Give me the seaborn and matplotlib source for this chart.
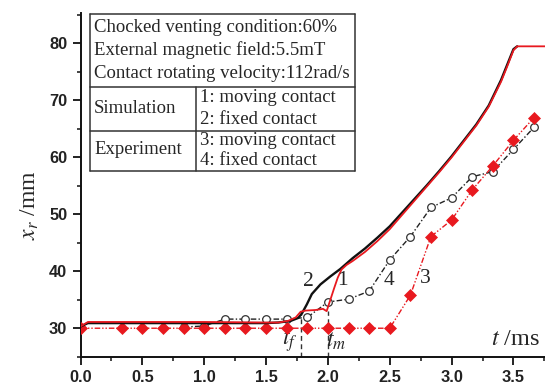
import matplotlib
matplotlib.use("Agg")
import matplotlib.pyplot as plt
from matplotlib.lines import Line2D
from matplotlib.ticker import MultipleLocator, FormatStrFormatter
import seaborn as sns
import pandas as pd

# Simulation 1: moving contact
t_sim1 = [0.0, 0.06, 0.5, 1.0, 1.5, 1.6, 1.68, 1.74, 1.78, 1.82, 1.9, 1.96, 1.99,
          2.02, 2.05, 2.08, 2.11, 2.15, 2.2, 2.3, 2.4, 2.5, 2.6, 2.7, 2.8, 2.9,
          3.0, 3.1, 3.2, 3.3, 3.4, 3.45, 3.5, 3.53, 3.76]
x_sim1 = [30.3, 31.1, 31.1, 31.1, 31.0, 31.0, 31.3, 31.9, 32.9, 33.1, 33.2, 33.4, 33.0,
          35.0, 37.0, 38.9, 40.3, 41.1, 41.8, 43.4, 45.3, 47.4, 49.9, 52.4, 54.9, 57.4,
          60.0, 62.8, 65.6, 68.9, 73.3, 76.0, 78.8, 79.5, 79.5]

# Simulation 2: fixed contact
t_sim2 = [0.0, 0.06, 0.5, 1.0, 1.5, 1.6, 1.7, 1.76, 1.79, 1.83, 1.87, 1.94, 2.02,
          2.1, 2.2, 2.3, 2.4, 2.5, 2.6, 2.7, 2.8, 2.9, 3.0, 3.1, 3.2, 3.3, 3.4,
          3.45, 3.5, 3.53]
x_sim2 = [30.3, 30.9, 30.9, 30.9, 30.9, 31.0, 31.3, 31.8, 32.6, 34.2, 36.0, 37.7, 39.1,
          40.4, 42.3, 44.0, 45.9, 47.9, 50.3, 52.7, 55.1, 57.6, 60.2, 63.0, 65.8, 69.1, 73.6,
          76.3, 79.0, 79.5]

# Experiment 3: moving contact
t_exp3 = [0.0, 0.333, 0.5, 0.667, 0.833, 1.0, 1.167, 1.333, 1.5, 1.667, 1.833, 2.0,
          2.167, 2.333, 2.5, 2.667, 2.833, 3.0, 3.167, 3.333, 3.5, 3.667]
x_exp3 = [30.0, 30.0, 30.0, 30.0, 30.0, 30.0, 30.0, 30.0, 30.0, 30.0, 30.0, 30.0,
          30.0, 30.0, 30.0, 35.8, 46.1, 49.0, 54.3, 58.5, 63.0, 67.0]

# Experiment 4: fixed contact
t_exp4 = [0.833, 1.0, 1.167, 1.333, 1.5, 1.667, 1.833, 2.0, 2.167, 2.333, 2.5,
          2.667, 2.833, 3.0, 3.167, 3.333, 3.5, 3.667]
x_exp4 = [30.2, 30.4, 31.6, 31.6, 31.6, 31.6, 31.9, 34.6, 35.1, 36.5, 42.0,
          46.1, 51.2, 52.9, 56.6, 57.5, 61.4, 65.3]

t_f, t_m = 1.78, 2.0

curve_labels = ["1", "2", "3", "4"]
curve_label_pos = [(2.12, 38.4), (1.84, 38.2), (2.785, 38.8), (2.49, 38.4)]

info_lines = ["Chocked venting condition:60%",
              "External magnetic field:5.5mT",
              "Contact rotating velocity:112rad/s"]
group_names = ["Simulation", "Experiment"]
group_items = [["1: moving contact", "2: fixed contact"],
               ["3: moving contact", "4: fixed contact"]]

RED = "#e8191f"
SERIF = "Liberation Serif"

sns.set_theme(style="ticks")
plt.rcParams["font.family"] = ["Liberation Sans", "DejaVu Sans"]
plt.rcParams["mathtext.fontset"] = "stix"

W, H = 545, 390
fig = plt.figure(figsize=(W / 100, H / 100), dpi=100)
x0, x1, ytop, ybot = 80.5, 545.0, 13.3, 356.7
ax = fig.add_axes([x0 / W, (H - ybot) / H, (x1 - x0) / W, (ybot - ytop) / H])

df1 = pd.DataFrame({"t": t_sim1, "x": x_sim1})
df2 = pd.DataFrame({"t": t_sim2, "x": x_sim2})
df3 = pd.DataFrame({"t": t_exp3, "x": x_exp3})
df4 = pd.DataFrame({"t": t_exp4, "x": x_exp4})

sns.lineplot(data=df4, x="t", y="x", ax=ax, sort=False, estimator=None,
             color="#222222", linewidth=1.0, linestyle=(0, (4, 1.6, 1, 1.6)),
             marker="o", markersize=5.5, markerfacecolor="white",
             markeredgecolor="#333333", markeredgewidth=0.9, zorder=3)
sns.lineplot(data=df3, x="t", y="x", ax=ax, sort=False, estimator=None,
             color=RED, linewidth=1.0, linestyle=(0, (4, 1.4, 1, 1.4, 1, 1.4)),
             marker="D", markersize=5.8, markerfacecolor=RED,
             markeredgecolor=RED, markeredgewidth=0.5, zorder=4)
sns.lineplot(data=df2, x="t", y="x", ax=ax, sort=False, estimator=None,
             color="#111111", linewidth=1.7, zorder=5)
sns.lineplot(data=df1, x="t", y="x", ax=ax, sort=False, estimator=None,
             color=RED, linewidth=1.3, zorder=6)

# onset markers for fixed and moving contact
ax.plot([t_f, t_f], [25, 33.0], color="#333333", lw=1.0, ls=(0, (3.5, 2.5)), zorder=2)
ax.plot([t_m, t_m], [25, 33.0], color="#333333", lw=1.0, ls=(0, (3.5, 2.5)), zorder=2)

for lab, (tx, ty) in zip(curve_labels, curve_label_pos):
    ax.text(tx, ty, lab, fontsize=15.5, family=SERIF,
            ha="center", va="center", zorder=7)

ax.text(1.69, 27.7, r"$t_f$", fontsize=17, ha="center", va="center")
ax.text(2.07, 27.7, r"$t_m$", fontsize=17, ha="center", va="center")
ax.text(3.715, 28.1, r"$t$ /ms", fontsize=17.5, family=SERIF,
        ha="right", va="center")

ax.set_xlim(0, (x1 - x0) / 123.7)
ax.set_ylim(25, 85.3)
ax.xaxis.set_major_locator(MultipleLocator(0.5))
ax.xaxis.set_minor_locator(MultipleLocator(0.25))
ax.yaxis.set_major_locator(MultipleLocator(10))
ax.yaxis.set_minor_locator(MultipleLocator(5))
ax.set_yticks([30, 40, 50, 60, 70, 80])
ax.xaxis.set_major_formatter(FormatStrFormatter("%.1f"))
ax.set_xlabel("")
ax.set_ylabel("")
for s in ("top", "right"):
    ax.spines[s].set_visible(False)
for s in ("left", "bottom"):
    ax.spines[s].set_linewidth(1.4)
    ax.spines[s].set_color("#111111")
ax.tick_params(which="major", direction="out", length=5.5, width=1.3,
               color="#111111", labelsize=11.8, pad=4)
ax.tick_params(which="minor", direction="out", length=3, width=1.1, color="#111111")
for lab in ax.get_xticklabels() + ax.get_yticklabels():
    lab.set_fontweight("bold")
    lab.set_color("#222222")

fig.text(30 / W, 1 - 205 / H, r"$x_r$ /mm", rotation=90, fontsize=17,
         family=SERIF, ha="center", va="center")

# parameter / legend table
def fx(px):
    return px / W


def fy(py):
    return 1 - py / H


tl, tr, tt, tb = 90.0, 355.0, 13.5, 171.0
r1, r2, dv = 86.7, 131.0, 196.0
lc = "#333333"
lw = 1.1
segs = [((tl, tt), (tr, tt)), ((tl, tb), (tr, tb)), ((tl, tt), (tl, tb)),
        ((tr, tt), (tr, tb)), ((tl, r1), (tr, r1)), ((tl, r2), (tr, r2)),
        ((dv, r1), (dv, tb))]
for (ax_, ay_), (bx_, by_) in segs:
    fig.add_artist(Line2D([fx(ax_), fx(bx_)], [fy(ay_), fy(by_)], color=lc,
                          lw=lw, transform=fig.transFigure))

tfont = dict(fontsize=13.5, family=SERIF, va="center", ha="left")
for line, yc in zip(info_lines, [28, 50.5, 73]):
    fig.text(fx(94), fy(yc), line, **tfont)
for name, yc in zip(group_names, [108.5, 150]):
    fig.text(fx(94), fy(yc), name, **tfont)
for items, ys in zip(group_items, [[97, 119], [140, 160.5]]):
    for item, yc in zip(items, ys):
        fig.text(fx(199.5), fy(yc), item, **tfont)

fig.savefig("out.png", dpi=100)
